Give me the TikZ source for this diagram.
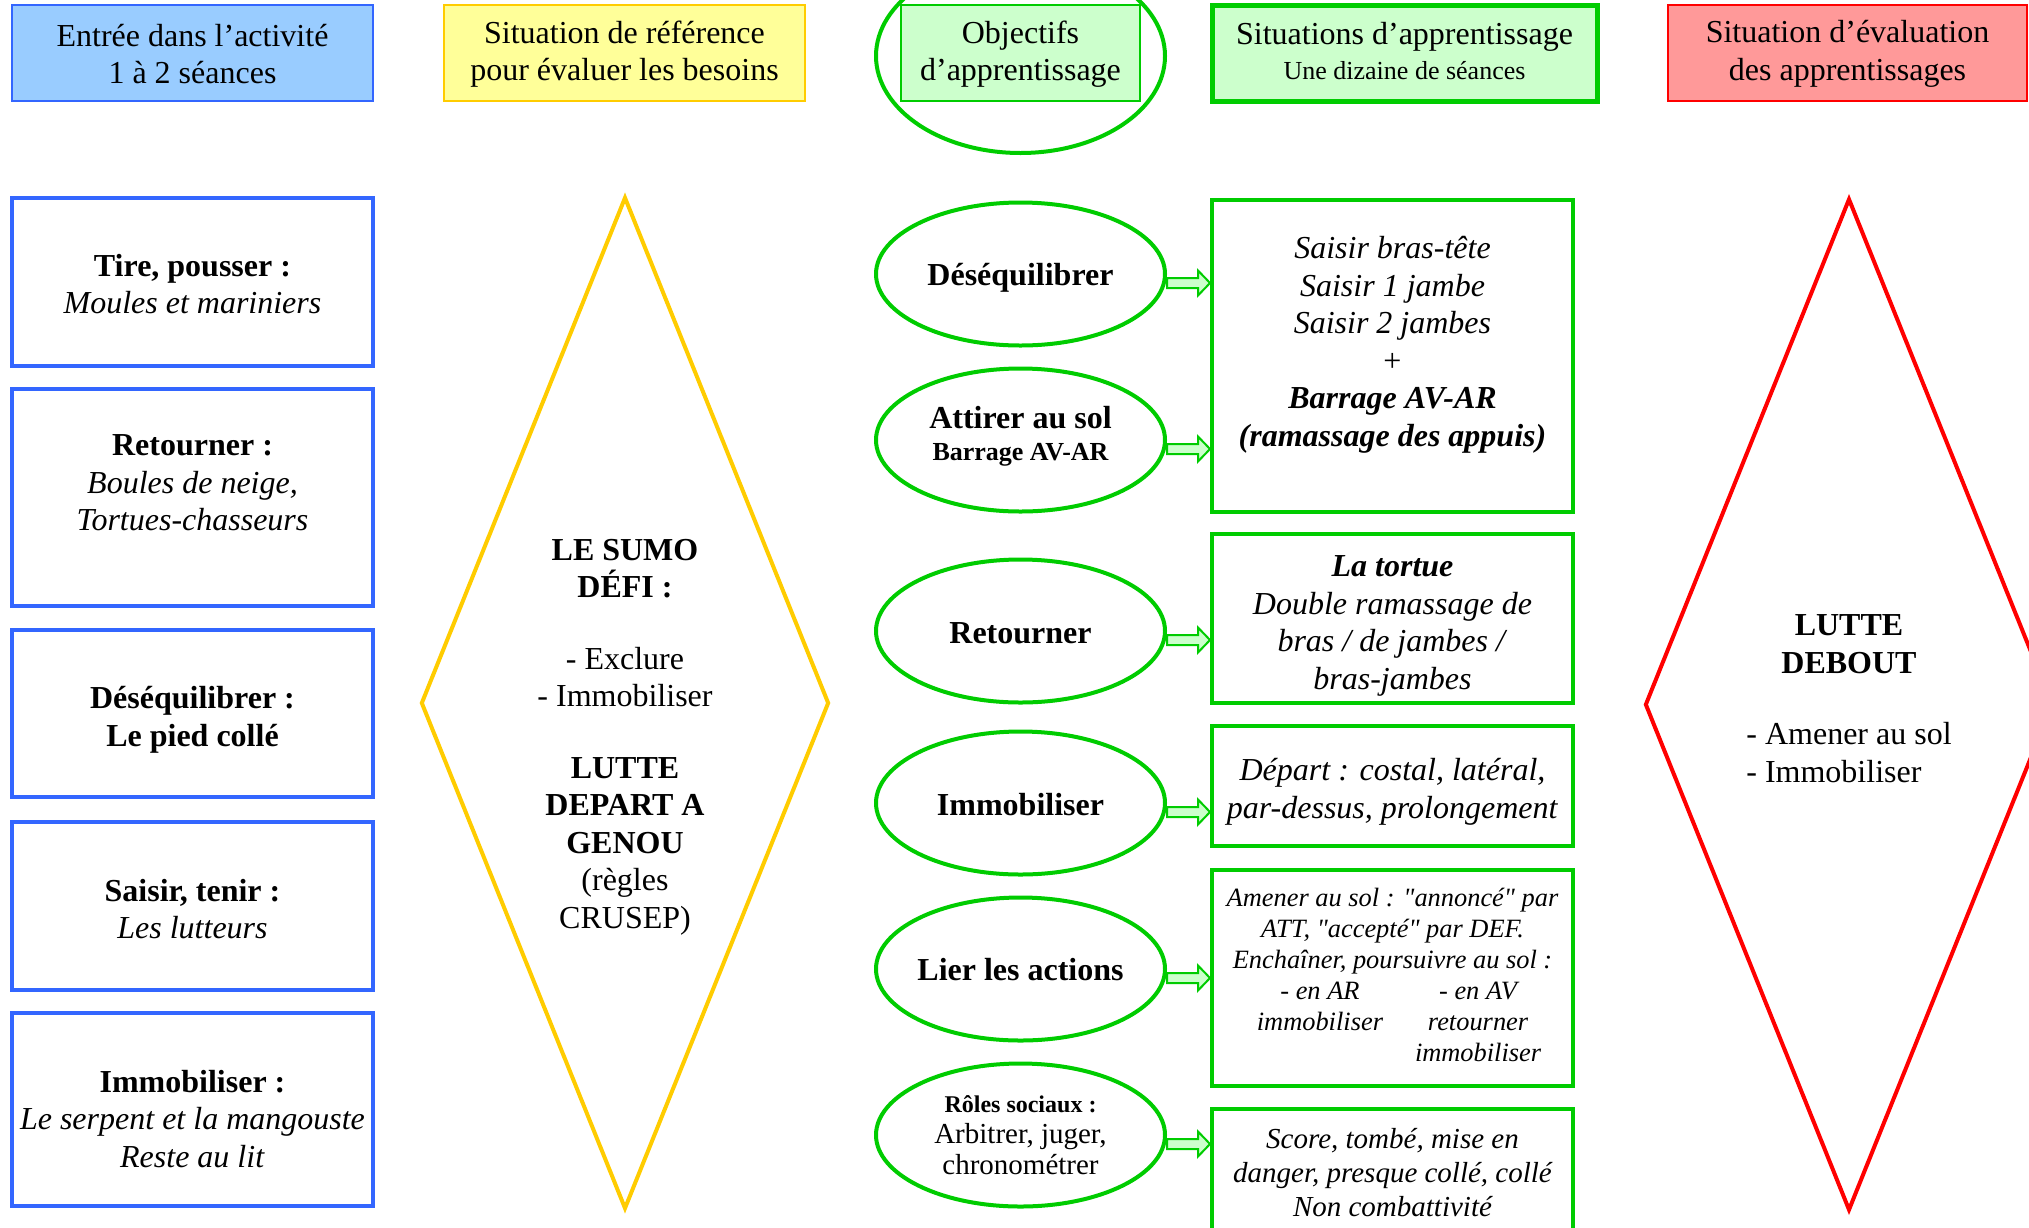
\documentclass[tikz,border=0pt]{standalone}
\usepackage{fontspec}
\setmainfont{Liberation Serif}[Ligatures=TeXOff]
\usetikzlibrary{shapes.geometric,calc}
\definecolor{blueB}{RGB}{51,102,255}
\definecolor{blueF}{RGB}{153,204,255}
\definecolor{yelB}{RGB}{255,204,0}
\definecolor{yelF}{RGB}{255,255,153}
\definecolor{grnB}{RGB}{0,204,0}
\definecolor{grnF}{RGB}{204,255,204}
\definecolor{redB}{RGB}{255,0,0}
\definecolor{redF}{RGB}{255,153,153}
\pgfdeclarelayer{bg}
\pgfsetlayers{bg,main}
\newcommand\flecheverte[2]{%
  \coordinate (fa) at ($(#1.east)+(0,9)$);
  \coordinate (fb) at (fa -| #2.west);
  \draw[barrow] ($(fa)+(0,-5)$) -- ($(fb)+(-12,-5)$) -- ($(fb)+(-12,-12.5)$) -- (fb)
     -- ($(fb)+(-12,12.5)$) -- ($(fb)+(-12,5)$) -- ($(fa)+(0,5)$) -- cycle;
}
\begin{document}
\begin{tikzpicture}[x=0.5pt,y=-0.5pt,
  txt/.style={font=\fontsize{16}{18.75}\selectfont, align=center, inner sep=0pt},
  hbox/.style={draw, line width=1.3pt, minimum width=180.5pt, minimum height=48pt, inner sep=0pt},
  lbox/.style={draw=blueB, line width=2pt, minimum width=180.5pt, inner sep=0pt},
  rbox/.style={draw=grnB, line width=2pt, minimum width=180.5pt, inner sep=0pt},
  obj/.style={ellipse, draw=grnB, line width=2pt, minimum width=144.5pt, minimum height=71.5pt, inner sep=0pt},
  losange/.style={diamond, line width=2pt, minimum width=204pt, minimum height=506pt, inner sep=0pt},
  barrow/.style={draw=grnB, fill=grnF, line width=1pt, line join=miter}
]
\begin{pgfonlayer}{bg}
\fill[white] (0,0) rectangle (2029,1227);
\end{pgfonlayer}
\useasboundingbox (0,0) rectangle (2029,1227);

% headers
\node[hbox, draw=blueB, fill=blueF] (h1) at (192.5,53) {};
\node[hbox, draw=yelB, fill=yelF] (h2) at (624.5,53) {};
\node[hbox, draw=grnB, fill=grnF, line width=1pt, minimum width=119.5pt] (h3) at (1020.5,53) {};
\node[ellipse, draw=grnB, line width=2pt, minimum width=144.5pt, minimum height=97pt, inner sep=0pt] (h3e) at (1020.5,56) {};
\node[hbox, draw=grnB, fill=grnF, line width=2.5pt, minimum width=192.5pt] (h4) at (1404.5,53) {};
\node[hbox, draw=redB, fill=redF, minimum width=179.5pt] (h5) at (1847.5,53) {};
\node[txt] (h1t) at (192.5,54) {Entrée dans l’activité\\1 à 2 séances};
\node[txt] (h2t) at (624.5,54) {Situation de référence\\pour évaluer les besoins};
\node[txt] (h3t) at (1020.5,54) {Objectifs\\d’apprentissage};
\node[txt, font=\fontsize{16}{17.5}\selectfont] (h4t) at (1404.5,51.5)
  {Situations d’apprentissage\\{\fontsize{13}{15}\selectfont Une dizaine de séances}};
\node[txt] (h5t) at (1847.5,54) {Situation d’évaluation\\des apprentissages};

% left column
\node[lbox, minimum height=84pt] (l1) at (192.5,282) {};
\node[lbox, minimum height=108.5pt] (l2) at (192.5,497.5) {};
\node[lbox, minimum height=83.5pt] (l3) at (192.5,713.5) {};
\node[lbox, minimum height=84pt] (l4) at (192.5,906) {};
\node[lbox, minimum height=96.5pt] (l5) at (192.5,1109.5) {};
\node[txt] (l1t) at (192.5,284) {\textbf{Tire, pousser :}\\\textit{Moules et mariniers}};
\node[txt] (l2t) at (192.5,483) {\textbf{Retourner :}\\\textit{Boules de neige,}\\\textit{Tortues-chasseurs}};
\node[txt] (l3t) at (192.5,720) {\textbf{Déséquilibrer :}\\\textbf{Le pied collé}};
\node[txt] (l4t) at (192.5,909) {\textbf{Saisir, tenir :}\\\textit{Les lutteurs}};
\node[txt] (l5t) at (192.5,1119) {\textbf{Immobiliser :}\\\textit{Le serpent et la mangouste}\\\textit{Reste au lit}};

% yellow diamond
\node[losange, draw=yelB] (yd) at (625,703) {};
\node[txt] (ydt) at (625,737) {\textbf{LE SUMO}\\\textbf{DÉFI :}\\[17pt]- Exclure\\- Immobiliser\\[17pt]%
  \textbf{LUTTE}\\\textbf{DEPART A}\\\textbf{GENOU}\\(règles\\CRUSEP)};

% objectives ellipses
\node[obj] (o1) at (1020.5,274) {};
\node[obj] (o2) at (1020.5,440) {};
\node[obj] (o3) at (1020.5,631) {};
\node[obj] (o4) at (1020.5,803) {};
\node[obj] (o5) at (1020.5,969) {};
\node[obj] (o6) at (1020.5,1135) {};
\node[txt] (o1t) at (1020.5,278) {\textbf{Déséquilibrer}};
\node[txt, font=\fontsize{16}{16}\selectfont] (o2t) at (1020.5,436) {\textbf{Attirer au sol}\\{\fontsize{13}{15}\selectfont\bfseries Barrage AV-AR}};
\node[txt] (o3t) at (1020.5,633) {\textbf{Retourner}};
\node[txt] (o4t) at (1020.5,805) {\textbf{Immobiliser}};
\node[txt] (o5t) at (1020.5,970) {\textbf{Lier les actions}};
\node[txt, font=\fontsize{14.5}{15.5}\selectfont] (o6t) at (1020.5,1135) {{\fontsize{12}{15}\selectfont\bfseries Rôles sociaux :}\\%
  Arbitrer, juger,\\chronométrer};

% right boxes
\node[rbox, minimum height=156pt] (r1) at (1392.5,356) {};
\node[rbox, minimum height=84.5pt] (r2) at (1392.5,618.5) {};
\node[rbox, minimum height=60pt] (r3) at (1392.5,786) {};
\node[rbox, minimum height=108pt] (r4) at (1392.5,978) {};
\node[rbox, minimum height=65.5pt] (r5) at (1392.5,1174.5) {};
\node[txt] (r1t) at (1392.5,345) {\textit{Saisir bras-tête}\\\textit{Saisir 1 jambe}\\\textit{Saisir 2 jambes}\\+\\%
  \textbf{\textit{Barrage AV-AR}}\\\textbf{\textit{(ramassage des appuis)}}};
\node[txt] (r2t) at (1392.5,626) {\textbf{\textit{La tortue}}\\\textit{Double ramassage de}\\\textit{bras / de jambes /}\\\textit{bras-jambes}};
\node[txt] (r3t) at (1392.5,792) {\textit{Départ : costal, latéral,}\\\textit{par-dessus, prolongement}};
\node[txt, font=\fontsize{13.2}{15.5}\selectfont\itshape] (r4t) at (1392.5,979) {Amener au sol : "annoncé" par\\ATT, "accepté" par DEF.\\Enchaîner, poursuivre au sol :\\%
  \hspace*{6.5pt}\begin{tabular}[t]{@{}c@{\hspace{16pt}}c@{}}- en AR & - en AV\\immobiliser & retourner\\ & immobiliser\end{tabular}};
\node[txt, font=\fontsize{14.5}{17}\selectfont\itshape] (r5t) at (1392.5,1173) {Score, tombé, mise en\\danger, presque collé, collé\\Non combattivité};

% red diamond
\node[losange, draw=redB] (rd) at (1849,704.5) {};
\node[txt] (rdt) at (1849,704) {\textbf{LUTTE}\\\textbf{DEBOUT}\\[17pt]%
  \begin{tabular}[t]{@{}l@{}}- Amener au sol\\- Immobiliser\end{tabular}};

% arrows
\begin{pgfonlayer}{bg}
\flecheverte{o1}{r1}
\flecheverte{o2}{r1}
\flecheverte{o3}{r2}
\flecheverte{o4}{r3}
\flecheverte{o5}{r4}
\flecheverte{o6}{r5}
\end{pgfonlayer}
\end{tikzpicture}
\end{document}
